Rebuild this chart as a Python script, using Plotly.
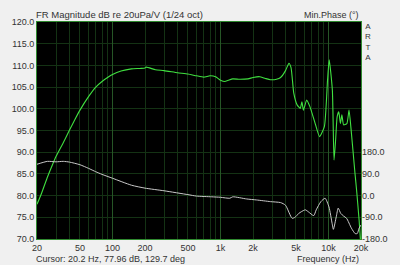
import math
import plotly.graph_objects as go

# ---- data ----
mag_freq = [20, 22, 25, 28, 30, 35, 40, 45, 50, 60, 70, 80, 90, 100, 120, 150, 180, 200, 205, 250, 300,
            400, 500, 600, 700, 800, 900, 1000, 1100, 1300, 1500, 1800, 2000, 2300, 2600, 2900, 3300,
            3600, 4000, 4300, 4500, 4770, 5120, 5480, 5670, 5860, 6280, 6730, 7450, 8260, 9160, 9800,
            10150, 10860, 11250, 11640, 12030, 12460, 12900, 13300, 13800, 14800, 15500, 16300, 17600,
            18200, 19200, 19800]
mag_db = [78.0, 80.5, 84.3, 87.3, 89.0, 92.2, 95.1, 97.6, 99.7, 102.8, 105.0, 106.3, 107.2, 107.9, 108.7,
          109.2, 109.3, 109.4, 109.6, 109.0, 108.8, 108.3, 108.0, 107.6, 107.3, 107.6, 107.4, 106.6, 106.3,
          106.9, 106.8, 106.9, 107.2, 107.4, 107.0, 106.7, 106.8, 107.2, 108.8, 110.5, 109.5, 103.6, 100.9,
          100.1, 101.6, 99.7, 102.0, 100.5, 97.0, 93.6, 95.9, 106.6, 111.3, 104.3, 88.2, 92.8, 98.2, 99.3,
          96.6, 98.6, 96.3, 96.6, 99.7, 94.4, 85.1, 81.3, 74.4, 69.5]

ph_freq = [20, 25, 30, 35, 40, 50, 60, 70, 80, 100, 150, 200, 300, 500, 600, 830, 1000, 1220, 1300, 1750,
           2150, 2900, 3600, 4000, 4600, 4900, 5300, 5600, 6100, 6500, 7300, 7700, 8500, 9300, 10100,
           10800, 11100, 11800, 12300, 13000, 13800, 14700, 16300, 17700, 18500, 19200, 20000]
ph_deg = [130, 142, 140, 142, 139, 128, 113, 99, 88, 72, 43, 31, 20, 4, -2, -5, -7, -11, -5, -14,
          -18, -25, -29, -40, -94, -90, -74, -67, -59, -67, -83, -59, -25, -11, -47,
          -115, -140, -88, -52, -74, -85, -94, -135, -158, -157, -135, -122]

grid_freqs = [20, 30, 40, 50, 60, 70, 80, 90, 100, 200, 300, 400, 500, 600, 700, 800, 900,
              1000, 2000, 3000, 4000, 5000, 6000, 7000, 8000, 9000, 10000, 20000]
label_map = {20: "20", 50: "50", 100: "100", 200: "200", 500: "500", 1000: "1k", 2000: "2k",
             5000: "5k", 10000: "10k", 20000: "20k"}
decade_freqs = [100, 1000, 10000]
db_ticks = [70, 75, 80, 85, 90, 95, 100, 105, 110, 115, 120]
ph_ticks = [-180, -90, 0, 90, 180]
side_letters = ["A", "R", "T", "A"]

FONT = "Liberation Sans, Arial, sans-serif"
TXT = "#333333"
GRID = "#143214"
GRID_DEC = "#265626"

fig = go.Figure()
fig.add_trace(go.Scatter(x=ph_freq, y=ph_deg, yaxis="y2", mode="lines",
                         line=dict(color="#c8c8c8", width=1, shape="spline", smoothing=0.6),
                         hoverinfo="skip", showlegend=False))
fig.add_trace(go.Scatter(x=mag_freq, y=mag_db, mode="lines",
                         line=dict(color="#40e040", width=1.1, shape="spline", smoothing=0.5),
                         hoverinfo="skip", showlegend=False))
fig.add_trace(go.Scatter(x=decade_freqs, y=[None] * 3, xaxis="x2", mode="lines", showlegend=False,
                         hoverinfo="skip"))

lx = [math.log10(20), math.log10(20000)]

annotations = [
    dict(text="FR Magnitude dB re 20uPa/V (1/24 oct)", xref="paper", yref="paper",
         x=0, y=1, xanchor="left", yanchor="bottom", xshift=-3, yshift=0, showarrow=False,
         font=dict(size=9.5, color=TXT)),
    dict(text="Min.Phase (°)", xref="paper", yref="paper", x=1, y=1,
         xanchor="right", yanchor="bottom", yshift=0, showarrow=False,
         font=dict(size=9, color=TXT)),
    dict(text="Cursor: 20.2 Hz, 77.96 dB, 129.7 deg", xref="paper", yref="paper",
         x=0, y=0, xanchor="left", yanchor="top", xshift=-3, yshift=-13, showarrow=False,
         font=dict(size=9, color=TXT)),
    dict(text="Frequency (Hz)", xref="paper", yref="paper", x=1, y=0,
         xanchor="right", yanchor="top", yshift=-13, showarrow=False,
         font=dict(size=9, color=TXT)),
    dict(text="<br>".join(side_letters), xref="paper", yref="paper", x=1, y=1,
         xanchor="left", yanchor="top", xshift=2, yshift=2, showarrow=False,
         align="center", font=dict(size=8, color=TXT)),
]

fig.update_layout(
    width=400, height=265,
    margin=dict(l=32, r=32, t=22, b=26),
    paper_bgcolor="#f0f0f0", plot_bgcolor="#000000",
    font=dict(family=FONT, size=9, color=TXT),
    xaxis=dict(type="log", range=lx, tickvals=grid_freqs,
               ticktext=[label_map.get(f, "") for f in grid_freqs],
               showgrid=True, gridcolor=GRID, gridwidth=1, zeroline=False,
               showline=True, linecolor="#2f8a2f", linewidth=1, mirror=True,
               ticks="", tickfont=dict(size=9, color=TXT), fixedrange=True),
    xaxis2=dict(type="log", range=lx, overlaying="x", tickvals=decade_freqs,
                showticklabels=False, showgrid=True, gridcolor=GRID_DEC, gridwidth=1,
                zeroline=False, ticks="", fixedrange=True),
    yaxis=dict(range=[70, 120], tickvals=db_ticks, ticktext=[f"{v:.1f}" for v in db_ticks],
               showgrid=True, gridcolor=GRID, gridwidth=1, zeroline=False,
               showline=True, linecolor="#2f8a2f", linewidth=1, mirror=True,
               ticks="", tickfont=dict(size=9, color=TXT), fixedrange=True),
    yaxis2=dict(range=[-180, 720], overlaying="y", side="right", tickvals=ph_ticks,
                ticktext=[f"{v:.1f}" for v in ph_ticks], showgrid=False, zeroline=False,
                ticks="", tickfont=dict(size=9, color=TXT), fixedrange=True),
    annotations=annotations,
)

fig.write_html("out.html")
